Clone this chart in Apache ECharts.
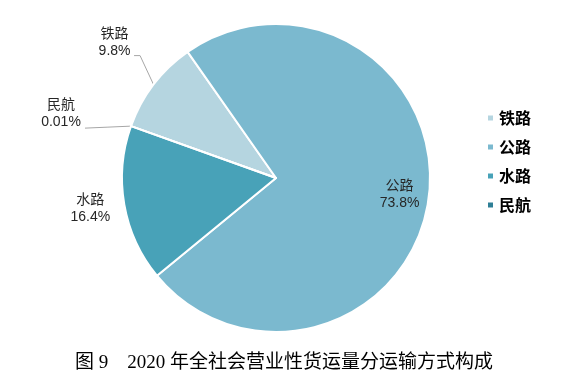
<!DOCTYPE html>
<html>
<head>
<meta charset="utf-8">
<script src="https://cdn.jsdelivr.net/npm/echarts@6/dist/echarts.min.js"></script>
<style>html,body{margin:0;padding:0;background:#fff}#c{width:570px;height:390px}</style>
</head>
<body>
<div id="c"></div>
<script>
const categories = ['铁路', '公路', '水路', '民航'];
const shares = [9.8, 73.8, 16.4, 0.01];
const colors = ['#b5d5e0', '#7bb9cf', '#48a2b8', '#2e7f96'];
const titleText = '图 9    2020 年全社会营业性货运量分运输方式构成';

const C = [276, 178];
const R = 154;
// label placement offsets relative to the slice edge point (style only)
const labelOffsets = {
  0: { line: [[-13.5, -29], [-19.5, -29]], label: [-39, -42] },
  2: { line: null, label: [-34, 4] },
  3: { line: [[-23, 1], [-46, 2]], label: [-70, -12] }
};

const chart = echarts.init(document.getElementById('c'));
chart.setOption({
  animation: false,
  title: {
    text: titleText,
    left: 70,
    top: 349,
    textStyle: { fontFamily: "'Liberation Serif', 'Noto Sans CJK SC', serif", fontSize: 19, fontWeight: 'normal', color: '#000' }
  },
  legend: {
    orient: 'vertical',
    left: 481,
    top: 105,
    itemWidth: 7,
    itemHeight: 7,
    itemGap: 13,
    icon: 'rect',
    data: categories,
    textStyle: { fontFamily: "'Noto Sans CJK SC', sans-serif", fontSize: 16, fontWeight: 'bold', color: '#000' }
  },
  series: [{
    type: 'pie',
    center: C,
    radius: R,
    startAngle: 160.3,
    clockwise: true,
    avoidLabelOverlap: false,
    itemStyle: { borderColor: '#fff', borderWidth: 2 },
    label: {
      show: true,
      position: 'outside',
      formatter: '{b}\n{c}%',
      fontFamily: "'Liberation Sans', 'Noto Sans CJK SC', sans-serif",
      fontSize: 14,
      lineHeight: 17,
      color: '#262626'
    },
    labelLine: { show: true, length: 10, length2: 6, lineStyle: { color: '#a6a6a6', width: 1 } },
    labelLayout: function (p) {
      const i = p.dataIndex;
      if (i === 1) {
        const r = p.labelRect;
        const lx = r.x + r.width / 2, ly = r.y + r.height / 2;
        const k = 120 / (R / 2);
        return { x: C[0] + (lx - C[0]) * k, y: C[1] + (ly - C[1]) * k, align: 'center', verticalAlign: 'middle' };
      }
      const o = labelOffsets[i];
      const pts = p.labelLinePoints;
      if (!o || !pts) return {};
      const s = pts[0];
      const res = { x: s[0] + o.label[0], y: s[1] + o.label[1], align: 'center', verticalAlign: 'middle' };
      if (o.line) {
        res.labelLinePoints = [[s[0], s[1]]].concat(o.line.map(d => [s[0] + d[0], s[1] + d[1]]));
      }
      return res;
    },
    data: categories.map((name, i) => {
      const item = { name: name, value: shares[i], itemStyle: { color: colors[i] } };
      if (i === 1) {
        item.label = { position: 'inside' };
        item.labelLine = { show: false };
      }
      if (i === 2) {
        item.labelLine = { lineStyle: { opacity: 0 } };
      }
      return item;
    })
  }]
});
</script>
</body>
</html>
